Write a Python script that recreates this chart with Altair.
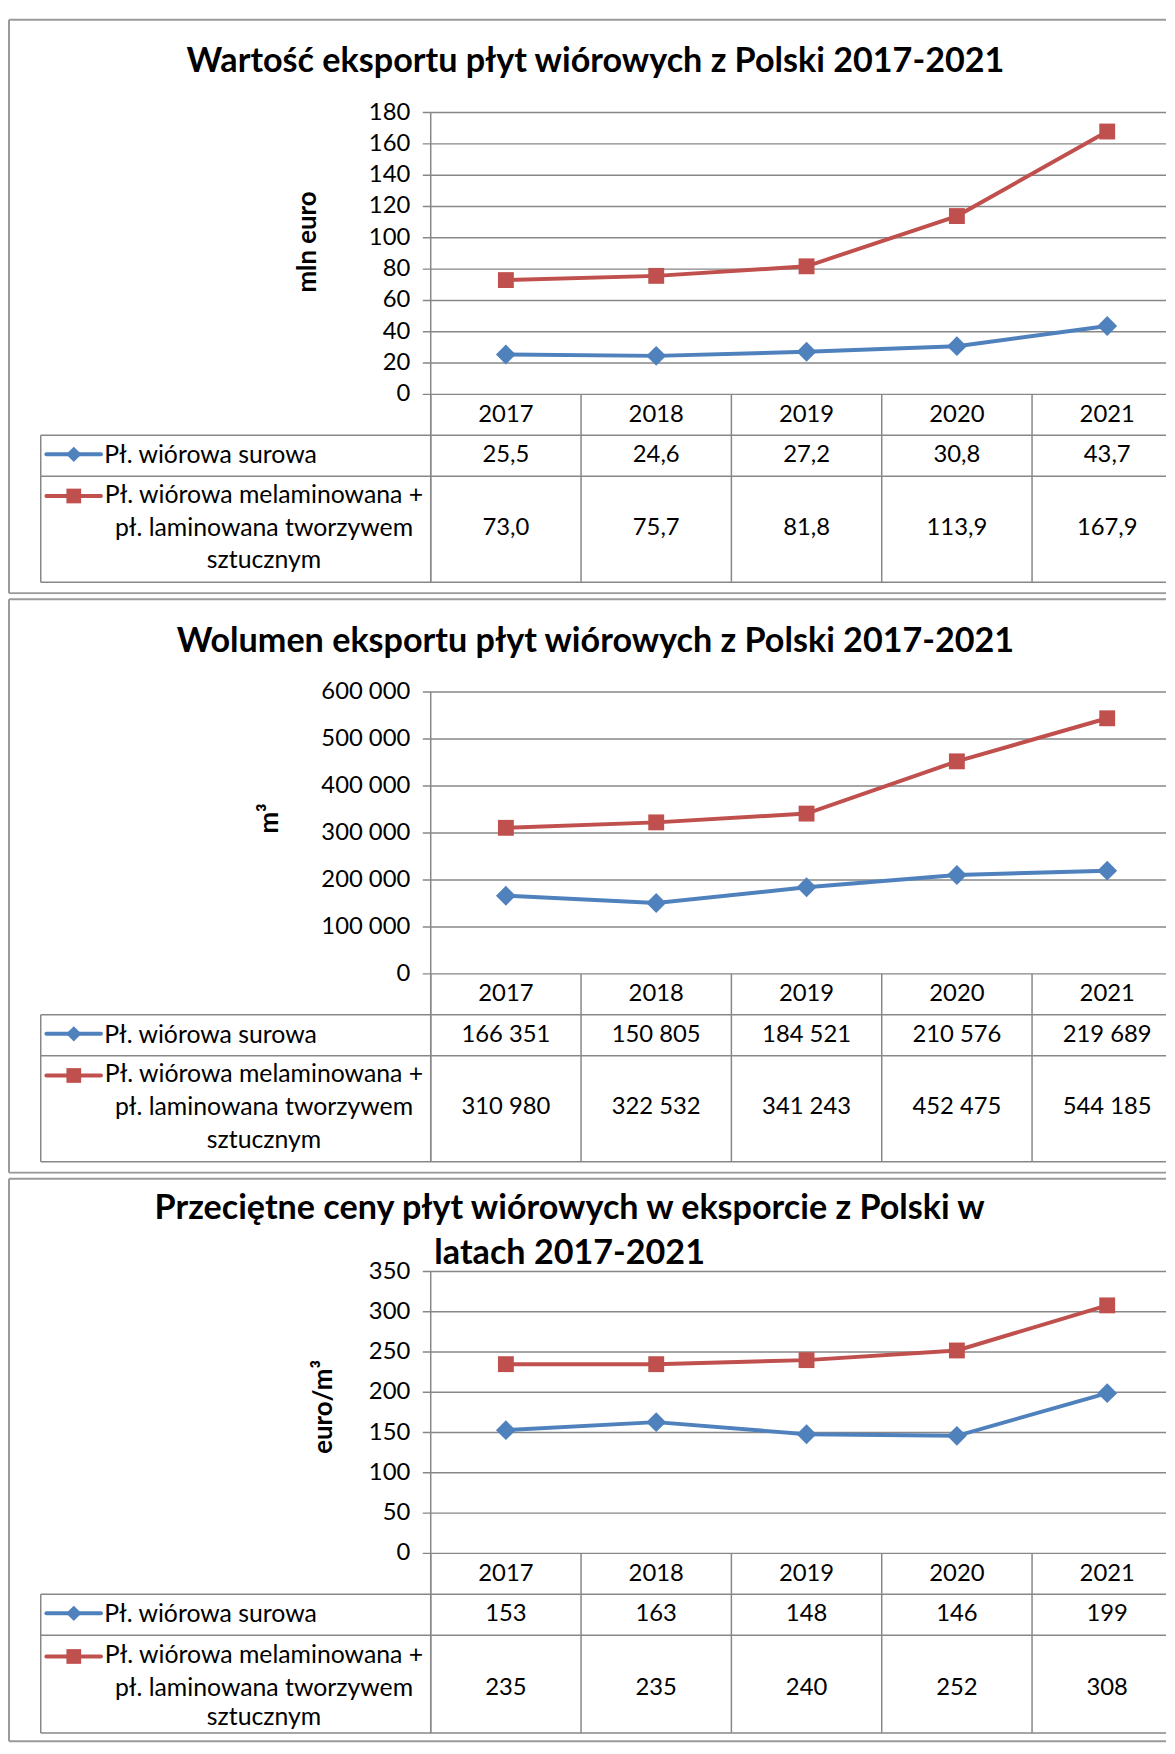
import altair as alt
import pandas as pd

# ---------------- data ----------------
years = ["2017", "2018", "2019", "2020", "2021"]
series = ["Pł. wiórowa surowa",
          "Pł. wiórowa melaminowana + pł. laminowana tworzywem sztucznym"]
series_label_lines = [["Pł. wiórowa surowa"],
                      ["Pł. wiórowa melaminowana +", "pł. laminowana tworzywem", "sztucznym"]]

value_raw = [25.5, 24.6, 27.2, 30.8, 43.7]
value_mel = [73.0, 75.7, 81.8, 113.9, 167.9]
volume_raw = [166351, 150805, 184521, 210576, 219689]
volume_mel = [310980, 322532, 341243, 452475, 544185]
price_raw = [153, 163, 148, 146, 199]
price_mel = [235, 235, 240, 252, 308]

titles = [["Wartość eksportu płyt wiórowych z Polski 2017-2021"],
          ["Wolumen eksportu płyt wiórowych z Polski 2017-2021"],
          ["Przeciętne ceny płyt wiórowych w eksporcie z Polski w", "latach 2017-2021"]]
y_titles = ["mln euro", "m³", "euro/m³"]

ticks_value = [0, 20, 40, 60, 80, 100, 120, 140, 160, 180]
ticks_volume = [0, 100000, 200000, 300000, 400000, 500000, 600000]
ticks_price = [0, 50, 100, 150, 200, 250, 300, 350]

# ---------------- style / layout ----------------
BLUE = "#4F81BD"
RED = "#C0504D"
GRID = "#878787"
BORDER = "#9a9a9a"
FONT = "Lato"
FS_TXT = 25
FS_NUM = 24
TITLE_FS = 34.4

W = 1167
AXIS_X = 426
COL = 151.5
PLOT_TOP = 98.6
PLOT_BOTTOM = 382.6
YEAR_ROW_Y = 403
TABLE_TOP = 423.7
ROW1_BOTTOM = 465
TABLE_LEFT = 33
ROW1_Y = 444
LEG_X1, LEG_X2, LEG_MX = 38.7, 93.7, 66.3
LEG1_Y = 443
LEG_TEXT_X = 97
LEG2_CENTER_X = 258
PANEL_H = 584


def fmt_dec(v):
    return f"{v:.1f}".replace(".", ",")


def fmt_int(v):
    return f"{v:,}".replace(",", " ")


one = pd.DataFrame({"k": [0]})


def text_layer(txt, x, y, **kw):
    return alt.Chart(pd.DataFrame({"t": [txt]})).mark_text(font=FONT, color="black",
                                                           baseline="middle", **kw).encode(
        x=alt.value(x), y=alt.value(y), text="t:N")


def panel(title_lines, title_x, title_ys, ytitle, ytx, yty,
          ticks, raw, mel, fmt, height, bottom_y, table_bottom, row2_lines_y, row2_y):
    ymax = ticks[-1]
    xscale = alt.Scale(type="band", domain=years, range=[AXIS_X, AXIS_X + 5 * COL],
                       paddingInner=0, paddingOuter=0)
    yscale = alt.Scale(domain=[0, ymax], range=[PLOT_BOTTOM, PLOT_TOP], nice=False, zero=False)

    df = pd.DataFrame({
        "year": years * 2,
        "series": [series[0]] * 5 + [series[1]] * 5,
        "value": raw + mel,
    })
    df["label"] = [fmt(v) for v in df["value"]]
    tick_df = pd.DataFrame({"tick": ticks, "label": [fmt_int(t) for t in ticks]})
    year_df = pd.DataFrame({"year": years})

    layers = []
    # background covering the whole panel (fixes the panel's bounds)
    layers.append(alt.Chart(one).mark_rect(fill="white", strokeWidth=0).encode(
        x=alt.value(0), x2=alt.value(W), y=alt.value(0), y2=alt.value(height)))
    # panel border
    layers.append(alt.Chart(one).mark_rule(color=BORDER, strokeWidth=2).encode(
        x=alt.value(1), x2=alt.value(W), y=alt.value(5)))
    layers.append(alt.Chart(one).mark_rule(color=BORDER, strokeWidth=2).encode(
        x=alt.value(1), y=alt.value(5), y2=alt.value(bottom_y)))
    layers.append(alt.Chart(one).mark_rule(color=BORDER, strokeWidth=2).encode(
        x=alt.value(1), x2=alt.value(W), y=alt.value(bottom_y)))

    # title
    for line, ty in zip(title_lines, title_ys):
        layers.append(text_layer(line, title_x, ty, fontSize=TITLE_FS, fontWeight="bold",
                                 align="center"))

    # y title
    layers.append(text_layer(ytitle, ytx, yty, fontSize=26, fontWeight="bold", angle=270,
                             align="center"))

    # gridlines + tick labels
    layers.append(alt.Chart(tick_df).mark_rule(color=GRID, strokeWidth=1.5).encode(
        y=alt.Y("tick:Q", scale=yscale, axis=None),
        x=alt.value(AXIS_X - 8), x2=alt.value(W)))
    layers.append(alt.Chart(tick_df).mark_text(
        font=FONT, fontSize=FS_NUM, color="black", align="right", baseline="middle").encode(
        y=alt.Y("tick:Q", scale=yscale, axis=None),
        x=alt.value(AXIS_X - 20.6), text="label:N"))

    # axis line and column lines
    layers.append(alt.Chart(one).mark_rule(color=GRID, strokeWidth=1.5).encode(
        x=alt.value(AXIS_X), y=alt.value(PLOT_TOP), y2=alt.value(table_bottom)))
    layers.append(alt.Chart(year_df).mark_rule(color=GRID, strokeWidth=1.5).encode(
        x=alt.X("year:N", scale=xscale, bandPosition=0, axis=None),
        y=alt.value(PLOT_BOTTOM), y2=alt.value(table_bottom)))

    # table horizontal lines
    for yy in (TABLE_TOP, ROW1_BOTTOM, table_bottom):
        layers.append(alt.Chart(one).mark_rule(color=GRID, strokeWidth=1.5).encode(
            x=alt.value(TABLE_LEFT), x2=alt.value(W), y=alt.value(yy)))
    layers.append(alt.Chart(one).mark_rule(color=GRID, strokeWidth=1.5).encode(
        x=alt.value(TABLE_LEFT), y=alt.value(TABLE_TOP), y2=alt.value(table_bottom)))

    # year labels
    layers.append(alt.Chart(year_df).mark_text(
        font=FONT, fontSize=FS_NUM, color="black", align="center", baseline="middle").encode(
        x=alt.X("year:N", scale=xscale, bandPosition=0.5, axis=None),
        y=alt.value(YEAR_ROW_Y), text="year:N"))

    # table values
    for s, yy in ((series[0], ROW1_Y), (series[1], row2_y)):
        layers.append(alt.Chart(df[df["series"] == s]).mark_text(
            font=FONT, fontSize=FS_NUM, color="black", align="center", baseline="middle").encode(
            x=alt.X("year:N", scale=xscale, bandPosition=0.5, axis=None),
            y=alt.value(yy), text="label:N"))

    # legend keys
    for col, shape, size, yy in ((BLUE, "diamond", 240, LEG1_Y),
                                 (RED, "square", 220, row2_lines_y[0] + 1)):
        layers.append(alt.Chart(one).mark_rule(color=col, strokeWidth=4, strokeCap="round").encode(
            x=alt.value(LEG_X1), x2=alt.value(LEG_X2), y=alt.value(yy)))
        layers.append(alt.Chart(one).mark_point(filled=True, opacity=1, color=col, shape=shape,
                                                size=size).encode(
            x=alt.value(LEG_MX), y=alt.value(yy)))
    layers.append(text_layer(series_label_lines[0][0], LEG_TEXT_X, ROW1_Y,
                             fontSize=FS_TXT, align="left"))
    for line, ly in zip(series_label_lines[1], row2_lines_y):
        layers.append(text_layer(line, LEG2_CENTER_X, ly, fontSize=FS_TXT, align="center"))

    # data lines + markers
    color = alt.Color("series:N", scale=alt.Scale(domain=series, range=[BLUE, RED]), legend=None)
    layers.append(alt.Chart(df).mark_line(strokeWidth=4).encode(
        x=alt.X("year:N", scale=xscale, bandPosition=0.5, axis=None),
        y=alt.Y("value:Q", scale=yscale, axis=None),
        color=color))
    layers.append(alt.Chart(df).mark_point(filled=True, opacity=1).encode(
        x=alt.X("year:N", scale=xscale, bandPosition=0.5, axis=None),
        y=alt.Y("value:Q", scale=yscale, axis=None),
        color=color,
        shape=alt.Shape("series:N", scale=alt.Scale(domain=series, range=["diamond", "square"]), legend=None),
        size=alt.Size("series:N", scale=alt.Scale(domain=series, range=[400, 256]), legend=None)))

    return alt.layer(*layers).properties(width=W, height=height)


p1 = panel(titles[0], 592, [48], y_titles[0], 302, 229,
           ticks_value, value_raw, value_mel, fmt_dec, PANEL_H, 583, 572, [484, 517, 550], 517)
p2 = panel(titles[1], 592, [48], y_titles[1], 264, 226,
           ticks_volume, volume_raw, volume_mel, fmt_int, PANEL_H, 583, 572, [484, 517, 550], 517)
p3 = panel(titles[2], 566, [36, 80.6], y_titles[2], 319, 235,
           ticks_price, price_raw, price_mel, lambda v: str(v), 578, 572, 563.5,
           [485.5, 518, 548], 518)

chart = (alt.vconcat(p1, p2, p3, spacing=0)
         .properties(padding=0)
         .configure_view(stroke=None))

chart.save("out.html", embed_options={"renderer": "svg", "actions": False})
